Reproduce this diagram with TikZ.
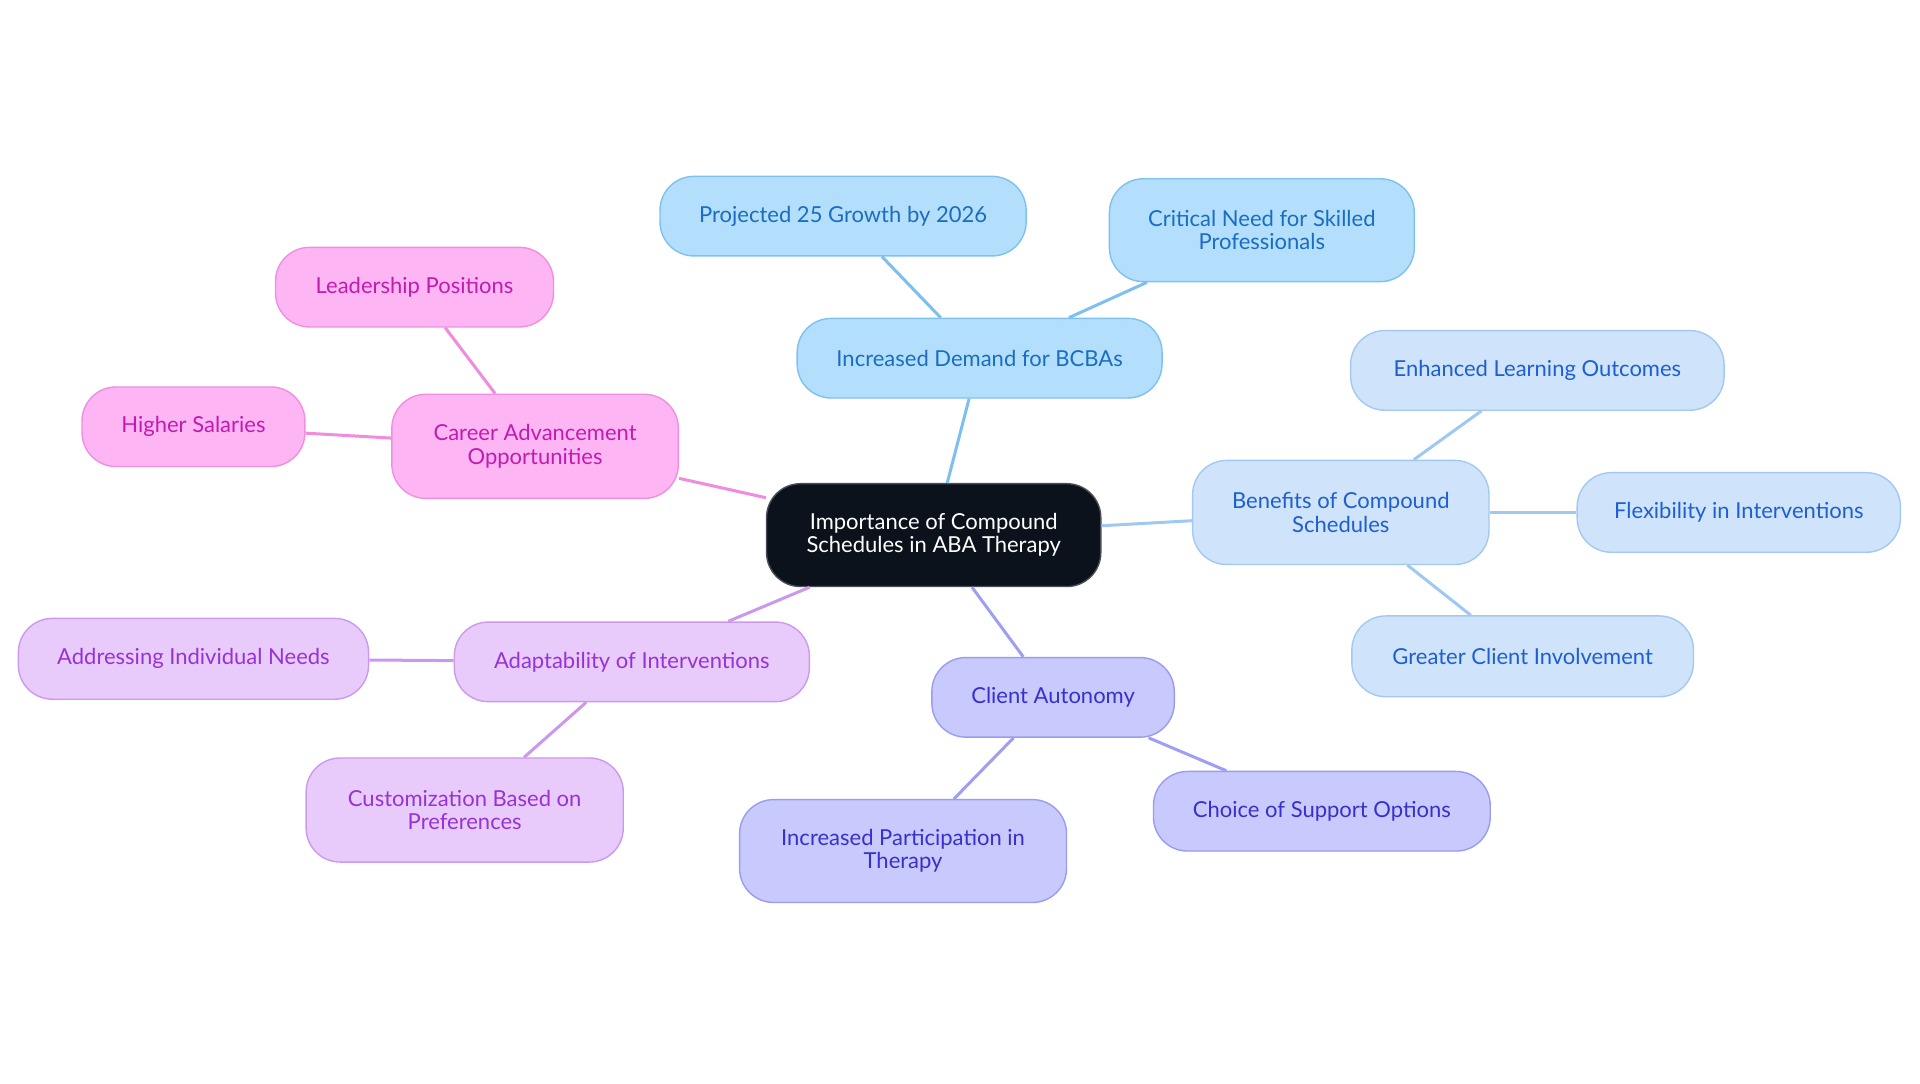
\documentclass[tikz,border=0pt]{standalone}
\usepackage{fontspec}
\setmainfont{Lato}
\begin{document}
\begin{tikzpicture}[x=0.612245pt,y=-0.612245pt,
  box/.style={draw, rounded corners=17pt, line width=0.7pt, align=center, inner sep=0pt,
    font=\fontsize{11}{11.6}\selectfont},
  sz/.style 2 args={minimum width=#1*0.612245pt, minimum height=#2*0.612245pt},
  gdem/.style={box, fill=dfill, draw=ddraw, text=dtext},
  gben/.style={box, fill=bfill, draw=bdraw, text=btext},
  gcli/.style={box, fill=cfill, draw=cdraw, text=ctext},
  gada/.style={box, fill=afill, draw=adraw, text=atext},
  gcar/.style={box, fill=kfill, draw=kdraw, text=ktext},
  link/.style={line width=1.5pt},
]
\definecolor{dfill}{HTML}{B3DFFD}\definecolor{ddraw}{HTML}{7DC1F0}\definecolor{dtext}{HTML}{1A6DC0}
\definecolor{bfill}{HTML}{CFE3FA}\definecolor{bdraw}{HTML}{A3C9F2}\definecolor{btext}{HTML}{1E5FD0}
\definecolor{cfill}{HTML}{C8C9FD}\definecolor{cdraw}{HTML}{9A9CF0}\definecolor{ctext}{HTML}{3B2FCC}
\definecolor{afill}{HTML}{E8CBFB}\definecolor{adraw}{HTML}{CC99EE}\definecolor{atext}{HTML}{9632D6}
\definecolor{kfill}{HTML}{FDB5F4}\definecolor{kdraw}{HTML}{F08FE0}\definecolor{ktext}{HTML}{C21BB0}
\definecolor{cenfill}{HTML}{0C121B}\definecolor{cendraw}{HTML}{4A4F57}
\definecolor{ldem}{HTML}{7DBFEE}\definecolor{lben}{HTML}{9FC8F2}\definecolor{lcli}{HTML}{9E9EF2}
\definecolor{lada}{HTML}{CB98EE}\definecolor{lcar}{HTML}{F08CDD}
\useasboundingbox[fill=white] (0,0) rectangle (1568,884.45);

\node[box, fill=cenfill, draw=cendraw, text=white, sz={273}{84}] (cen) at (762.5,437) {Importance of Compound\\Schedules in ABA Therapy};

\node[gdem, sz={298}{65}] (dem) at (800,292.5) {Increased Demand for BCBAs};
\node[gdem, sz={299}{65}] (proj) at (688.5,176.5) {Projected 25 Growth by 2026};
\node[gdem, sz={249}{84}] (crit) at (1030.5,188) {Critical Need for Skilled\\Professionals};

\node[gben, sz={242}{85}] (ben) at (1095,418.5) {Benefits of Compound\\Schedules};
\node[gben, sz={305}{65}] (enh) at (1255.5,302.5) {Enhanced Learning Outcomes};
\node[gben, sz={264}{65}] (flex) at (1420,418.5) {Flexibility in Interventions};
\node[gben, sz={279}{66}] (grt) at (1243.5,536) {Greater Client Involvement};

\node[gcli, sz={198}{65}] (cli) at (860,569.5) {Client Autonomy};
\node[gcli, sz={267}{84}] (par) at (737.5,695) {Increased Participation in\\Therapy};
\node[gcli, sz={275}{65}] (cho) at (1079.5,662.5) {Choice of Support Options};

\node[gada, sz={290}{65}] (ada) at (516,540.5) {Adaptability of Interventions};
\node[gada, sz={286}{66}] (adr) at (158,538) {Addressing Individual Needs};
\node[gada, sz={259}{85}] (cus) at (379.5,661.5) {Customization Based on\\Preferences};

\node[gcar, sz={234}{85}] (car) at (437,364.5) {Career Advancement\\Opportunities};
\node[gcar, sz={182}{65}] (hig) at (158,348.5) {Higher Salaries};
\node[gcar, sz={227}{65}] (lea) at (338.5,234.5) {Leadership Positions};

\begin{scope}[on background layer/.style={}]
\end{scope}
\draw[link, ldem] (cen) -- (dem);
\draw[link, ldem] (dem) -- (proj);
\draw[link, ldem] (dem) -- (crit);
\draw[link, lben] (cen) -- (ben);
\draw[link, lben] (ben) -- (enh);
\draw[link, lben] (ben) -- (flex);
\draw[link, lben] (ben) -- (grt);
\draw[link, lcli] (cen) -- (cli);
\draw[link, lcli] (cli) -- (par);
\draw[link, lcli] (cli) -- (cho);
\draw[link, lada] (cen) -- (ada);
\draw[link, lada] (ada) -- (adr);
\draw[link, lada] (ada) -- (cus);
\draw[link, lcar] (cen) -- (car);
\draw[link, lcar] (car) -- (hig);
\draw[link, lcar] (car) -- (lea);
\end{tikzpicture}
\end{document}
